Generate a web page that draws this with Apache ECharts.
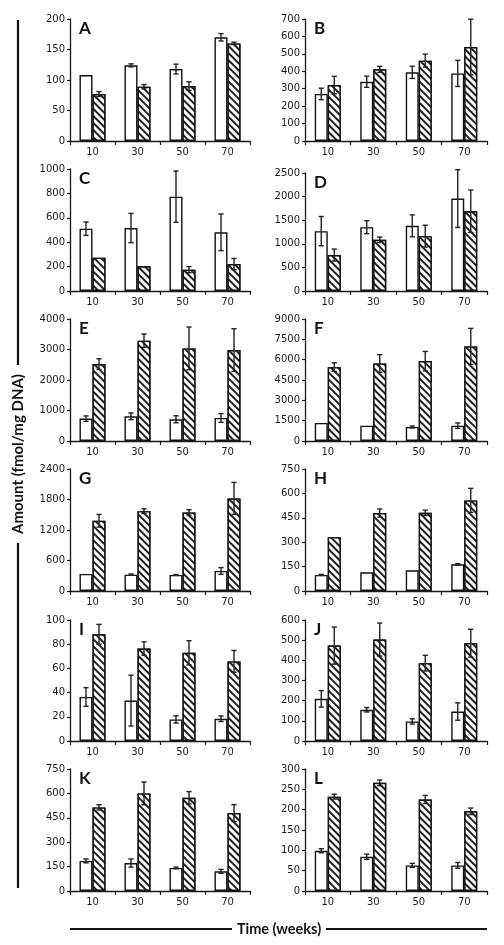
<!DOCTYPE html>
<html><head><meta charset="utf-8">
<script src="https://cdn.jsdelivr.net/npm/echarts@6/dist/echarts.min.js"></script>
<style>html,body{margin:0;padding:0;background:#fff}#c{width:504px;height:945px}</style>
</head><body><div id="c"></div>
<script>
const weeks = ['10', '30', '50', '70'];
const panelLetters = ['A','B','C','D','E','F','G','H','I','J','K','L'];
const yMaxes = [200, 700, 1000, 2500, 4000, 9000, 2400, 750, 100, 600, 750, 300];
const yIntervals = [50, 100, 200, 500, 1000, 1500, 600, 150, 20, 100, 150, 50];

const aWhite = [108, 124, 118, 170], aWhiteErr = [0, 2.5, 8, 6];
const aHatch = [77, 89, 90, 160],    aHatchErr = [4, 3.5, 7, 2];
const bWhite = [270, 340, 394, 388], bWhiteErr = [33, 32, 35, 75];
const bHatch = [321, 411, 461, 539], bHatchErr = [50, 17, 37, 160];
const cWhite = [511, 516, 773, 481], cWhiteErr = [55, 120, 210, 150];
const cHatch = [273, 202, 175, 221], cHatchErr = [0, 0, 25, 46];
const dWhite = [1268, 1352, 1380, 1958], dWhiteErr = [310, 137, 232, 612];
const dHatch = [761, 1085, 1162, 1690],  dHatchErr = [127, 57, 232, 450];
const eWhite = [734, 811, 712, 756],     eWhiteErr = [88, 110, 115, 142];
const eHatch = [2521, 3288, 3036, 2981], eHatchErr = [175, 220, 700, 700];
const fWhite = [1331, 1134, 1036, 1134], fWhiteErr = [0, 0, 70, 200];
const fHatch = [5449, 5720, 5893, 6978], fHatchErr = [320, 650, 715, 1330];
const gWhite = [335, 322, 316, 394],     gWhiteErr = [0, 13, 8, 66];
const gHatch = [1381, 1571, 1545, 1821], gHatchErr = [125, 46, 53, 315];
const hWhite = [99, 115, 127, 164],      hWhiteErr = [3, 0, 0, 4];
const hHatch = [331, 479, 481, 557],     hHatchErr = [0, 25, 16, 74];
const iWhite = [36.4, 33.4, 17.8, 18.4], iWhiteErr = [7.7, 21, 3, 2.3];
const iHatch = [88.2, 76.4, 72.9, 65.8], iHatchErr = [8.2, 5.5, 10, 9];
const jWhite = [209, 155, 97, 146],      jWhiteErr = [41, 11, 13, 43];
const jHatch = [473, 503, 386, 485],     jHatchErr = [92, 82, 39, 69];
const kWhite = [185, 172, 142, 121],     kWhiteErr = [12, 25, 5, 12];
const kHatch = [514, 600, 573, 479],     kHatchErr = [16, 70, 38, 52];
const lWhite = [99, 84, 63, 63],         lWhiteErr = [5, 6.5, 5, 7];
const lHatch = [232, 266, 225, 196],     lHatchErr = [6, 7, 10, 8];

const whites = [aWhite,bWhite,cWhite,dWhite,eWhite,fWhite,gWhite,hWhite,iWhite,jWhite,kWhite,lWhite];
const whiteErrs = [aWhiteErr,bWhiteErr,cWhiteErr,dWhiteErr,eWhiteErr,fWhiteErr,gWhiteErr,hWhiteErr,iWhiteErr,jWhiteErr,kWhiteErr,lWhiteErr];
const hatches = [aHatch,bHatch,cHatch,dHatch,eHatch,fHatch,gHatch,hHatch,iHatch,jHatch,kHatch,lHatch];
const hatchErrs = [aHatchErr,bHatchErr,cHatchErr,dHatchErr,eHatchErr,fHatchErr,gHatchErr,hHatchErr,iHatchErr,jHatchErr,kHatchErr,lHatchErr];

// layout
const colLeft = [70, 305], colWidth = [180, 182];
const rowTop = [19, 169, 319, 469, 620, 769];
const rowBottom = [141, 291, 441, 591, 741, 891];
const BW = 13;

const grids = [], xAxes = [], yAxes = [], series = [], graphics = [];
for (let i = 0; i < 12; i++) {
  const col = i % 2, row = Math.floor(i / 2);
  let top = rowTop[row];
  if (i === 3) top = 173;
  grids.push({ left: colLeft[col], width: colWidth[col], top: top, height: rowBottom[row] - top, containLabel: false });
  xAxes.push({
    type: 'category', gridIndex: i, data: weeks,
    axisLine: { lineStyle: { color: '#1a1a1a', width: 1.3 } },
    axisTick: { show: true, length: 4, lineStyle: { color: '#1a1a1a', width: 1.2 } },
    axisLabel: { color: '#1a1a1a', fontFamily: 'DejaVu Sans', fontSize: 10, margin: 6 },
    splitLine: { show: false }
  });
  yAxes.push({
    type: 'value', gridIndex: i, min: 0, max: yMaxes[i], interval: yIntervals[i],
    axisLine: { show: true, lineStyle: { color: '#1a1a1a', width: 1.3 } },
    axisTick: { show: true, length: 3, lineStyle: { color: '#1a1a1a', width: 1.2 } },
    axisLabel: { color: '#1a1a1a', fontFamily: 'DejaVu Sans', fontSize: 10, margin: 5, formatter: function (v) { return String(v); } },
    splitLine: { show: false }
  });
  series.push({
    type: 'bar', xAxisIndex: i, yAxisIndex: i, data: whites[i], barWidth: BW, barGap: '0%',
    itemStyle: { color: '#fff', borderColor: '#111', borderWidth: 1.4 }, silent: true, animation: false
  });
  series.push({
    type: 'bar', xAxisIndex: i, yAxisIndex: i, data: hatches[i], barWidth: BW, barGap: '0%',
    itemStyle: {
      color: '#fff', borderColor: '#111', borderWidth: 1.4,
      decal: { symbol: 'rect', symbolSize: 1, color: '#222', backgroundColor: '#fff', dashArrayX: [1, 0], dashArrayY: [1.1, 2.3], rotation: Math.PI / 4 }
    }, silent: true, animation: false
  });
  const errData = [];
  for (let k = 0; k < 4; k++) {
    if (whiteErrs[i][k] > 0) errData.push([k, whites[i][k] - whiteErrs[i][k], whites[i][k] + whiteErrs[i][k], -1]);
    if (hatchErrs[i][k] > 0) errData.push([k, hatches[i][k] - hatchErrs[i][k], hatches[i][k] + hatchErrs[i][k], 1]);
  }
  series.push({
    type: 'custom', xAxisIndex: i, yAxisIndex: i, data: errData, z: 10, silent: true, animation: false,
    encode: { x: 0, y: [1, 2] },
    renderItem: function (params, api) {
      const c = api.value(0), lo = api.value(1), hi = api.value(2), side = api.value(3);
      const pH = api.coord([c, hi]), pL = api.coord([c, lo]);
      const cx = pH[0] + side * BW / 2;
      const cap = 2.6;
      const st = { stroke: '#222', lineWidth: 1.4 };
      return { type: 'group', children: [
        { type: 'line', shape: { x1: cx, y1: pH[1], x2: cx, y2: pL[1] }, style: st },
        { type: 'line', shape: { x1: cx - cap, y1: pH[1], x2: cx + cap, y2: pH[1] }, style: st },
        { type: 'line', shape: { x1: cx - cap, y1: pL[1], x2: cx + cap, y2: pL[1] }, style: st }
      ] };
    }
  });
  graphics.push({
    type: 'text', left: colLeft[col] + 9, top: top + 1, z: 20,
    style: { text: panelLetters[i], font: 'bold 17px Lato', fill: '#111' }
  });
}

// axis titles with rules
graphics.push({ type: 'line', shape: { x1: 18, y1: 20, x2: 18, y2: 365 }, style: { stroke: '#111', lineWidth: 2.2 } });
graphics.push({ type: 'line', shape: { x1: 18, y1: 543, x2: 18, y2: 888 }, style: { stroke: '#111', lineWidth: 2.2 } });
graphics.push({
  type: 'text', x: 18, y: 454, rotation: Math.PI / 2, z: 20,
  style: { text: 'Amount (fmol/mg DNA)', font: 'bold 15px Lato', fill: '#111', textAlign: 'center', textVerticalAlign: 'middle' }
});
graphics.push({ type: 'line', shape: { x1: 70, y1: 929, x2: 232, y2: 929 }, style: { stroke: '#111', lineWidth: 2.2 } });
graphics.push({ type: 'line', shape: { x1: 326, y1: 929, x2: 487, y2: 929 }, style: { stroke: '#111', lineWidth: 2.2 } });
graphics.push({
  type: 'text', x: 279, y: 929, z: 20,
  style: { text: 'Time (weeks)', font: 'bold 14.5px Lato', fill: '#111', textAlign: 'center', textVerticalAlign: 'middle' }
});

const chart = echarts.init(document.getElementById('c'), null, { renderer: 'canvas' });
chart.setOption({
  animation: false,
  backgroundColor: '#fff',
  grid: grids, xAxis: xAxes, yAxis: yAxes, series: series, graphic: graphics
});
</script></body></html>
